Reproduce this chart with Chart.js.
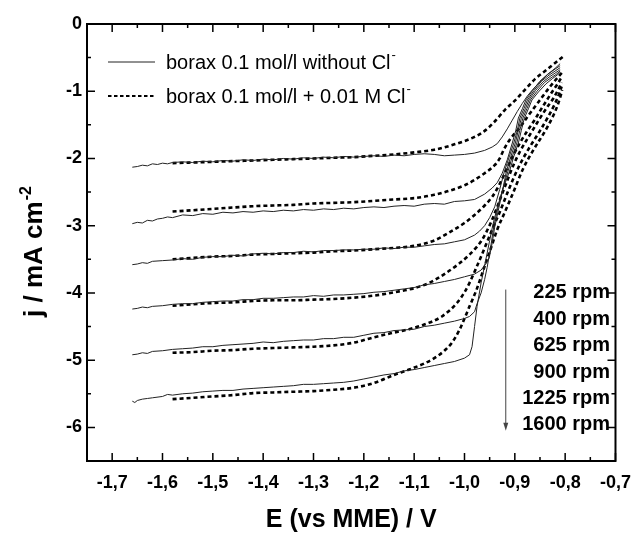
<!DOCTYPE html>
<html>
<head>
<meta charset="utf-8">
<script src="https://cdn.jsdelivr.net/npm/chart.js@4.4.0/dist/chart.umd.min.js"></script>
<style>
  html, body { margin: 0; padding: 0; background: #fff; }
</style>
</head>
<body>
<canvas id="myChart" width="642" height="535"></canvas>
<script>
// axis ticks (E in V, j in mA/cm2)
const xTicks = [-1.7, -1.6, -1.5, -1.4, -1.3, -1.2, -1.1, -1.0, -0.9, -0.8, -0.7];
const xMinor = [-1.65, -1.55, -1.45, -1.35, -1.25, -1.15, -1.05, -0.95, -0.85, -0.75];
const yTicks = [0, -1, -2, -3, -4, -5, -6];
const yMinor = [-0.5, -1.5, -2.5, -3.5, -4.5, -5.5];

const rpmLabels = ["225 rpm", "400 rpm", "625 rpm", "900 rpm", "1225 rpm", "1600 rpm"];

// borax 0.1 mol/l without Cl-  [E, j]
const solid225 = [[-1.66,-2.13],[-1.65,-2.12],[-1.64,-2.10],[-1.63,-2.11],[-1.62,-2.08],[-1.61,-2.09],[-1.60,-2.07],[-1.59,-2.08],[-1.58,-2.06],[-1.56,-2.05],[-1.54,-2.06],[-1.52,-2.04],[-1.50,-2.05],[-1.48,-2.03],[-1.46,-2.04],[-1.44,-2.02],[-1.42,-2.03],[-1.40,-2.01],[-1.38,-2.02],[-1.36,-2.00],[-1.34,-2.01],[-1.32,-1.99],[-1.30,-2.00],[-1.28,-1.98],[-1.26,-1.99],[-1.24,-1.97],[-1.22,-1.98],[-1.20,-1.97],[-1.18,-1.96],[-1.16,-1.97],[-1.14,-1.95],[-1.12,-1.96],[-1.10,-1.94],[-1.08,-1.93],[-1.06,-1.94],[-1.04,-1.96],[-1.02,-1.95],[-1.00,-1.94],[-0.98,-1.92],[-0.96,-1.88],[-0.945,-1.83],[-0.935,-1.78],[-0.925,-1.68],[-0.915,-1.56],[-0.905,-1.43],[-0.895,-1.30],[-0.885,-1.18],[-0.875,-1.07],[-0.865,-0.98],[-0.85,-0.86],[-0.835,-0.75],[-0.82,-0.66],[-0.81,-0.59]];
const solid400 = [[-1.66,-2.97],[-1.65,-2.95],[-1.64,-2.96],[-1.63,-2.92],[-1.62,-2.93],[-1.61,-2.90],[-1.60,-2.89],[-1.59,-2.87],[-1.58,-2.88],[-1.56,-2.84],[-1.54,-2.85],[-1.52,-2.82],[-1.50,-2.83],[-1.48,-2.80],[-1.46,-2.81],[-1.44,-2.79],[-1.42,-2.80],[-1.40,-2.78],[-1.38,-2.79],[-1.36,-2.77],[-1.34,-2.78],[-1.32,-2.76],[-1.30,-2.77],[-1.28,-2.75],[-1.26,-2.76],[-1.24,-2.74],[-1.22,-2.75],[-1.20,-2.73],[-1.18,-2.72],[-1.16,-2.73],[-1.14,-2.71],[-1.12,-2.70],[-1.10,-2.71],[-1.08,-2.68],[-1.06,-2.67],[-1.04,-2.68],[-1.02,-2.64],[-1.00,-2.63],[-0.98,-2.61],[-0.96,-2.53],[-0.945,-2.44],[-0.935,-2.36],[-0.925,-2.22],[-0.915,-2.02],[-0.905,-1.77],[-0.898,-1.58],[-0.893,-1.40],[-0.885,-1.26],[-0.878,-1.13],[-0.865,-0.99],[-0.85,-0.85],[-0.835,-0.75],[-0.82,-0.67],[-0.81,-0.62]];
const solid625 = [[-1.66,-3.58],[-1.65,-3.57],[-1.64,-3.55],[-1.63,-3.56],[-1.62,-3.53],[-1.60,-3.52],[-1.58,-3.51],[-1.56,-3.49],[-1.54,-3.50],[-1.52,-3.47],[-1.50,-3.46],[-1.48,-3.46],[-1.46,-3.44],[-1.44,-3.45],[-1.42,-3.42],[-1.40,-3.41],[-1.38,-3.42],[-1.36,-3.40],[-1.34,-3.40],[-1.32,-3.38],[-1.30,-3.39],[-1.28,-3.37],[-1.26,-3.37],[-1.24,-3.36],[-1.22,-3.36],[-1.20,-3.35],[-1.18,-3.35],[-1.16,-3.33],[-1.14,-3.34],[-1.12,-3.32],[-1.10,-3.32],[-1.08,-3.30],[-1.06,-3.28],[-1.04,-3.27],[-1.02,-3.24],[-1.00,-3.21],[-0.98,-3.14],[-0.97,-3.08],[-0.96,-3.00],[-0.95,-2.88],[-0.94,-2.72],[-0.93,-2.46],[-0.921,-2.20],[-0.91,-1.95],[-0.902,-1.77],[-0.895,-1.58],[-0.89,-1.40],[-0.882,-1.26],[-0.875,-1.13],[-0.862,-0.99],[-0.847,-0.85],[-0.832,-0.76],[-0.82,-0.70],[-0.81,-0.65]];
const solid900 = [[-1.66,-4.24],[-1.65,-4.23],[-1.64,-4.21],[-1.63,-4.22],[-1.62,-4.20],[-1.60,-4.19],[-1.58,-4.17],[-1.56,-4.16],[-1.54,-4.16],[-1.52,-4.14],[-1.50,-4.13],[-1.48,-4.12],[-1.46,-4.12],[-1.44,-4.10],[-1.42,-4.10],[-1.40,-4.08],[-1.38,-4.08],[-1.36,-4.07],[-1.34,-4.06],[-1.32,-4.06],[-1.30,-4.04],[-1.28,-4.05],[-1.26,-4.03],[-1.24,-4.03],[-1.22,-4.02],[-1.20,-4.01],[-1.18,-3.99],[-1.16,-3.98],[-1.14,-3.96],[-1.12,-3.94],[-1.10,-3.92],[-1.08,-3.88],[-1.06,-3.86],[-1.04,-3.83],[-1.02,-3.80],[-1.00,-3.76],[-0.98,-3.72],[-0.967,-3.66],[-0.958,-3.57],[-0.951,-3.48],[-0.945,-3.26],[-0.94,-3.02],[-0.933,-2.78],[-0.925,-2.50],[-0.917,-2.20],[-0.908,-1.97],[-0.899,-1.77],[-0.893,-1.58],[-0.887,-1.40],[-0.879,-1.26],[-0.872,-1.13],[-0.859,-0.99],[-0.844,-0.86],[-0.83,-0.78],[-0.82,-0.73],[-0.81,-0.68]];
const solid1225 = [[-1.66,-4.92],[-1.65,-4.91],[-1.64,-4.89],[-1.63,-4.90],[-1.62,-4.87],[-1.60,-4.86],[-1.58,-4.84],[-1.56,-4.83],[-1.54,-4.82],[-1.52,-4.80],[-1.50,-4.80],[-1.48,-4.78],[-1.46,-4.77],[-1.44,-4.76],[-1.42,-4.75],[-1.40,-4.73],[-1.38,-4.74],[-1.36,-4.72],[-1.34,-4.71],[-1.32,-4.70],[-1.30,-4.70],[-1.28,-4.68],[-1.26,-4.68],[-1.24,-4.66],[-1.22,-4.66],[-1.20,-4.63],[-1.18,-4.60],[-1.16,-4.59],[-1.14,-4.56],[-1.12,-4.55],[-1.10,-4.54],[-1.08,-4.50],[-1.06,-4.48],[-1.04,-4.45],[-1.02,-4.42],[-1.00,-4.38],[-0.99,-4.35],[-0.98,-4.28],[-0.975,-4.16],[-0.967,-4.00],[-0.96,-3.80],[-0.955,-3.62],[-0.948,-3.32],[-0.942,-3.02],[-0.935,-2.78],[-0.925,-2.48],[-0.914,-2.20],[-0.905,-1.97],[-0.896,-1.77],[-0.89,-1.58],[-0.884,-1.40],[-0.876,-1.26],[-0.869,-1.13],[-0.856,-1.00],[-0.841,-0.87],[-0.828,-0.80],[-0.818,-0.75],[-0.81,-0.70]];
const solid1600 = [[-1.66,-5.61],[-1.655,-5.63],[-1.65,-5.60],[-1.64,-5.58],[-1.63,-5.57],[-1.62,-5.56],[-1.60,-5.54],[-1.59,-5.51],[-1.58,-5.52],[-1.56,-5.50],[-1.54,-5.49],[-1.52,-5.47],[-1.50,-5.46],[-1.48,-5.45],[-1.46,-5.45],[-1.44,-5.43],[-1.42,-5.42],[-1.40,-5.41],[-1.38,-5.40],[-1.36,-5.39],[-1.34,-5.38],[-1.32,-5.36],[-1.30,-5.36],[-1.28,-5.35],[-1.26,-5.34],[-1.24,-5.33],[-1.22,-5.31],[-1.20,-5.28],[-1.18,-5.25],[-1.16,-5.22],[-1.14,-5.20],[-1.12,-5.16],[-1.10,-5.14],[-1.08,-5.11],[-1.06,-5.08],[-1.04,-5.05],[-1.02,-5.02],[-1.00,-4.97],[-0.99,-4.92],[-0.985,-4.80],[-0.98,-4.50],[-0.975,-4.20],[-0.967,-3.85],[-0.958,-3.52],[-0.95,-3.22],[-0.944,-3.00],[-0.936,-2.76],[-0.924,-2.46],[-0.911,-2.20],[-0.902,-1.97],[-0.893,-1.77],[-0.887,-1.58],[-0.881,-1.40],[-0.873,-1.26],[-0.866,-1.13],[-0.853,-1.01],[-0.838,-0.89],[-0.825,-0.81],[-0.816,-0.76],[-0.81,-0.72]];

// borax 0.1 mol/l + 0.01 M Cl-  [E, j]
const dashed225 = [[-1.58,-2.07],[-1.54,-2.06],[-1.50,-2.05],[-1.46,-2.04],[-1.42,-2.03],[-1.38,-2.02],[-1.34,-2.01],[-1.30,-2.00],[-1.26,-1.99],[-1.22,-1.98],[-1.18,-1.96],[-1.14,-1.94],[-1.10,-1.91],[-1.06,-1.87],[-1.02,-1.79],[-0.98,-1.68],[-0.96,-1.59],[-0.94,-1.45],[-0.92,-1.28],[-0.90,-1.14],[-0.88,-0.98],[-0.86,-0.82],[-0.84,-0.70],[-0.82,-0.58],[-0.805,-0.49]];
const dashed400 = [[-1.58,-2.79],[-1.54,-2.77],[-1.50,-2.75],[-1.46,-2.73],[-1.42,-2.71],[-1.38,-2.70],[-1.34,-2.69],[-1.30,-2.67],[-1.26,-2.66],[-1.22,-2.65],[-1.18,-2.63],[-1.14,-2.61],[-1.10,-2.59],[-1.06,-2.54],[-1.03,-2.48],[-1.00,-2.40],[-0.98,-2.32],[-0.96,-2.22],[-0.94,-2.10],[-0.93,-2.00],[-0.922,-1.87],[-0.91,-1.72],[-0.898,-1.61],[-0.888,-1.52],[-0.875,-1.38],[-0.862,-1.25],[-0.85,-1.13],[-0.835,-0.98],[-0.82,-0.84],[-0.806,-0.72]];
const dashed625 = [[-1.58,-3.50],[-1.54,-3.48],[-1.50,-3.46],[-1.46,-3.45],[-1.42,-3.43],[-1.38,-3.42],[-1.34,-3.41],[-1.30,-3.40],[-1.26,-3.38],[-1.22,-3.37],[-1.18,-3.35],[-1.14,-3.33],[-1.10,-3.30],[-1.06,-3.22],[-1.03,-3.10],[-1.00,-2.96],[-0.98,-2.84],[-0.96,-2.70],[-0.945,-2.57],[-0.935,-2.45],[-0.925,-2.30],[-0.915,-2.14],[-0.905,-1.98],[-0.89,-1.77],[-0.876,-1.60],[-0.86,-1.42],[-0.848,-1.27],[-0.837,-1.14],[-0.825,-1.00],[-0.815,-0.89],[-0.807,-0.79]];
const dashed900 = [[-1.58,-4.19],[-1.54,-4.17],[-1.50,-4.15],[-1.46,-4.14],[-1.42,-4.12],[-1.38,-4.11],[-1.34,-4.11],[-1.30,-4.10],[-1.26,-4.09],[-1.22,-4.07],[-1.18,-4.04],[-1.14,-3.99],[-1.10,-3.93],[-1.07,-3.85],[-1.04,-3.72],[-1.01,-3.56],[-0.99,-3.43],[-0.975,-3.31],[-0.965,-3.21],[-0.948,-2.96],[-0.936,-2.74],[-0.925,-2.52],[-0.914,-2.31],[-0.904,-2.12],[-0.89,-1.90],[-0.876,-1.72],[-0.863,-1.56],[-0.85,-1.40],[-0.836,-1.24],[-0.823,-1.10],[-0.814,-0.98],[-0.807,-0.87]];
const dashed1225 = [[-1.58,-4.89],[-1.54,-4.88],[-1.50,-4.86],[-1.46,-4.85],[-1.42,-4.83],[-1.38,-4.82],[-1.34,-4.81],[-1.30,-4.80],[-1.26,-4.78],[-1.22,-4.74],[-1.18,-4.66],[-1.14,-4.59],[-1.11,-4.54],[-1.08,-4.47],[-1.045,-4.35],[-1.015,-4.15],[-1.00,-3.99],[-0.99,-3.85],[-0.978,-3.65],[-0.966,-3.44],[-0.955,-3.24],[-0.943,-3.02],[-0.93,-2.80],[-0.912,-2.46],[-0.892,-2.12],[-0.872,-1.85],[-0.851,-1.60],[-0.833,-1.37],[-0.82,-1.18],[-0.812,-1.04],[-0.807,-0.93]];
const dashed1600 = [[-1.58,-5.58],[-1.54,-5.56],[-1.50,-5.54],[-1.46,-5.52],[-1.42,-5.49],[-1.38,-5.48],[-1.34,-5.47],[-1.30,-5.46],[-1.26,-5.44],[-1.22,-5.41],[-1.18,-5.34],[-1.14,-5.22],[-1.11,-5.14],[-1.08,-5.05],[-1.06,-4.97],[-1.04,-4.86],[-1.025,-4.74],[-1.01,-4.55],[-1.00,-4.38],[-0.99,-4.20],[-0.977,-3.97],[-0.958,-3.56],[-0.946,-3.30],[-0.935,-3.06],[-0.92,-2.80],[-0.905,-2.54],[-0.884,-2.16],[-0.862,-1.86],[-0.842,-1.62],[-0.826,-1.40],[-0.815,-1.21],[-0.809,-1.07],[-0.806,-0.98]];

const solidCurves = [solid225, solid400, solid625, solid900, solid1225, solid1600];
const dashedCurves = [dashed225, dashed400, dashed625, dashed900, dashed1225, dashed1600];

const FONT = '"Liberation Sans", Arial, Helvetica, sans-serif';
Chart.defaults.font.family = FONT;
Chart.defaults.color = "#000";

const toXY = (pts) => pts.map(([x, y]) => ({ x, y }));

const datasets = [
  ...solidCurves.map((pts) => ({
    data: toXY(pts),
    borderColor: "#222",
    borderWidth: 1,
    pointRadius: 0,
    tension: 0,
  })),
  ...dashedCurves.map((pts) => ({
    data: toXY(pts),
    borderColor: "#000",
    borderWidth: 2.6,
    borderDash: [4, 3],
    pointRadius: 0,
    cubicInterpolationMode: "monotone",
  })),
];

// text with a small raised part (superscripts)
function drawSup(ctx, x, y, main, sup, mainFont, supFont, rise) {
  ctx.font = mainFont;
  ctx.fillText(main, x, y);
  const w = ctx.measureText(main).width;
  ctx.font = supFont;
  ctx.fillText(sup, x + w + 1, y - rise);
}

const decorations = {
  id: "decorations",
  afterDraw(chart) {
    const { ctx, chartArea: a } = chart;
    const xs = chart.scales.x;
    const ys = chart.scales.y;
    ctx.save();

    // frame
    ctx.strokeStyle = "#000";
    ctx.lineWidth = 2;
    ctx.strokeRect(a.left, a.top, a.right - a.left, a.bottom - a.top);

    // inward ticks on all four sides
    ctx.lineWidth = 1.5;
    ctx.beginPath();
    const xt = (v, len) => {
      const p = xs.getPixelForValue(v);
      ctx.moveTo(p, a.bottom); ctx.lineTo(p, a.bottom - len);
      ctx.moveTo(p, a.top); ctx.lineTo(p, a.top + len);
    };
    const yt = (v, len) => {
      const p = ys.getPixelForValue(v);
      ctx.moveTo(a.left, p); ctx.lineTo(a.left + len, p);
      ctx.moveTo(a.right, p); ctx.lineTo(a.right - len, p);
    };
    xTicks.forEach((v) => xt(v, 8));
    xMinor.forEach((v) => xt(v, 4));
    yTicks.forEach((v) => yt(v, 8));
    yMinor.forEach((v) => yt(v, 4));
    ctx.stroke();

    // legend
    ctx.fillStyle = "#000";
    ctx.textBaseline = "middle";
    ctx.textAlign = "left";
    ctx.lineWidth = 1;
    ctx.strokeStyle = "#222";
    ctx.beginPath();
    ctx.moveTo(108, 62); ctx.lineTo(155, 62);
    ctx.stroke();
    ctx.lineWidth = 2;
    ctx.strokeStyle = "#000";
    ctx.setLineDash([3.5, 2.5]);
    ctx.beginPath();
    ctx.moveTo(108, 96); ctx.lineTo(155, 96);
    ctx.stroke();
    ctx.setLineDash([]);
    drawSup(ctx, 166, 63, "borax 0.1 mol/l without Cl", "-", "20px " + FONT, "13px " + FONT, 8);
    drawSup(ctx, 166, 97, "borax 0.1 mol/l + 0.01 M Cl", "-", "20px " + FONT, "13px " + FONT, 8);

    // rotation speeds and arrow
    ctx.font = "bold 20px " + FONT;
    ctx.textAlign = "right";
    const y0 = ys.getPixelForValue(-4);
    rpmLabels.forEach((t, i) => ctx.fillText(t, 610, y0 + i * 26.4));

    const ax = xs.getPixelForValue(-0.918);
    const aTop = ys.getPixelForValue(-3.95);
    const aTip = ys.getPixelForValue(-6.05);
    ctx.strokeStyle = "#444";
    ctx.fillStyle = "#444";
    ctx.lineWidth = 1;
    ctx.beginPath();
    ctx.moveTo(ax, aTop); ctx.lineTo(ax, aTip - 4);
    ctx.stroke();
    ctx.beginPath();
    ctx.moveTo(ax, aTip); ctx.lineTo(ax - 2.5, aTip - 8); ctx.lineTo(ax + 2.5, aTip - 8);
    ctx.closePath();
    ctx.fill();

    // y axis title
    ctx.fillStyle = "#000";
    ctx.translate(42, 252);
    ctx.rotate(-Math.PI / 2);
    ctx.textAlign = "left";
    ctx.textBaseline = "alphabetic";
    ctx.font = "bold 26px " + FONT;
    const w1 = ctx.measureText("j / mA cm").width;
    ctx.font = "bold 16px " + FONT;
    const w2 = ctx.measureText("-2").width;
    drawSup(ctx, -(w1 + w2) / 2, 0, "j / mA cm", "-2", "bold 26px " + FONT, "bold 16px " + FONT, 11);

    ctx.restore();
  },
};

new Chart(document.getElementById("myChart"), {
  type: "line",
  data: { datasets },
  options: {
    responsive: false,
    animation: false,
    devicePixelRatio: 1,
    layout: { padding: { left: 0, top: 24, right: 18, bottom: 0 } },
    plugins: { legend: { display: false }, tooltip: { enabled: false } },
    scales: {
      x: {
        type: "linear",
        min: -1.75,
        max: -0.7,
        afterBuildTicks: (s) => { s.ticks = xTicks.map((v) => ({ value: v })); },
        afterFit: (s) => { s.height = 74; },
        grid: { display: false, drawTicks: false },
        border: { display: false },
        ticks: {
          autoSkip: false,
          maxRotation: 0,
          padding: 11,
          font: { size: 18, weight: "bold" },
          callback: (v) => v.toFixed(1).replace(".", ","),
        },
        title: {
          display: true,
          text: "E (vs MME) / V",
          font: { size: 25, weight: "bold" },
          padding: { top: 0, bottom: 0 },
        },
      },
      y: {
        min: -6.5,
        max: 0,
        afterBuildTicks: (s) => { s.ticks = yTicks.map((v) => ({ value: v })); },
        afterFit: (s) => { s.width = 87; },
        grid: { display: false, drawTicks: false },
        border: { display: false },
        ticks: {
          autoSkip: false,
          padding: 5,
          font: { size: 18, weight: "bold" },
          callback: (v) => String(v),
        },
      },
    },
  },
  plugins: [decorations],
});
</script>
</body>
</html>
